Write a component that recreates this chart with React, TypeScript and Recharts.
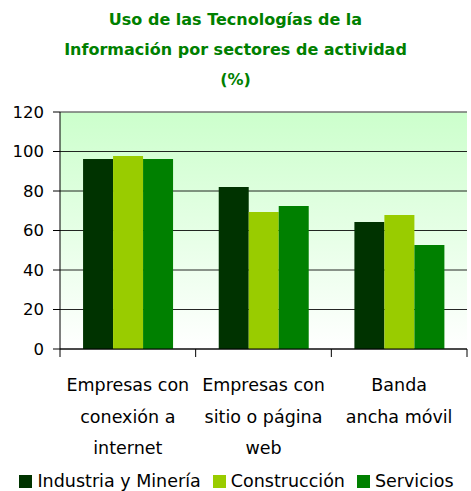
import React from 'react';
import {
  BarChart,
  Bar,
  XAxis,
  YAxis,
  CartesianGrid,
  Legend,
  ReferenceLine,
} from 'recharts';

// categories (wrapped onto three lines like the original)
const categories = [
  ['Empresas con', 'conexión a', 'internet'],
  ['Empresas con', 'sitio o página', 'web'],
  ['Banda', 'ancha móvil'],
];

const industria = [96.2, 82.0, 64.3];
const construccion = [97.7, 69.4, 67.8];
const servicios = [96.2, 72.4, 52.7];

const yTicks = [0, 20, 40, 60, 80, 100, 120];

const seriesNames = ['Industria y Minería', 'Construcción', 'Servicios'];
const seriesColors = ['#003300', '#99cc00', '#008000'];

const titleLines = [
  'Uso de las Tecnologías de la',
  'Información por sectores de actividad',
  '(%)',
];

const data = categories.map((lines, i) => ({
  name: lines.join(' '),
  industria: industria[i],
  construccion: construccion[i],
  servicios: servicios[i],
}));

const FONT = '"DejaVu Sans", sans-serif';
const W = 471;
const H = 491;
const PLOT_LEFT = 60;
const PLOT_RIGHT = 4;
const BAND = (W - PLOT_LEFT - PLOT_RIGHT) / categories.length;

// category label plus the tick marks that sit on the category edges
const CategoryTick = (props: any) => {
  const { x, y, index } = props;
  const lines = categories[index] || [];
  const top = y - 8; // tick y includes tickMargin offset
  return (
    <g>
      <line x1={x - BAND / 2} x2={x - BAND / 2} y1={top} y2={top + 8} stroke="#000" />
      {index === categories.length - 1 && (
        <line x1={x + BAND / 2} x2={x + BAND / 2} y1={top} y2={top + 8} stroke="#000" />
      )}
      {lines.map((l: string, i: number) => (
        <text
          key={i}
          x={x}
          y={top + 36 + i * 31.5}
          textAnchor="middle"
          dominantBaseline="central"
          fontSize={17.5}
          fontFamily={FONT}
          fill="#000"
        >
          {l}
        </text>
      ))}
    </g>
  );
};

const LegendBox = () => (
  <div
    style={{
      height: 20,
      display: 'flex',
      justifyContent: 'center',
      alignItems: 'center',
      gap: 12,
      fontFamily: FONT,
      fontSize: 17.5,
      color: '#000',
      whiteSpace: 'nowrap',
      paddingLeft: 6,
    }}
  >
    {seriesNames.map((n, i) => (
      <div key={n} style={{ display: 'flex', alignItems: 'center', gap: 5 }}>
        <span style={{ width: 13, height: 13, background: seriesColors[i], display: 'inline-block' }} />
        <span>{n}</span>
      </div>
    ))}
  </div>
);

export default function App() {
  return (
    <div style={{ position: 'absolute', left: 0, top: 0, width: W, height: H, background: '#fff' }}>
      <div
        style={{
          position: 'absolute',
          left: 0,
          top: 5,
          width: W,
          textAlign: 'center',
          fontFamily: FONT,
          fontWeight: 'bold',
          fontSize: 16,
          lineHeight: '30px',
          color: '#008000',
        }}
      >
        {titleLines.map((t) => (
          <div key={t}>{t}</div>
        ))}
      </div>
      <BarChart
        width={W}
        height={H}
        data={data}
        margin={{ top: 112, right: PLOT_RIGHT, left: 0, bottom: 0 }}
        barCategoryGap="17%"
        barGap={0}
      >
        <defs>
          <linearGradient id="plotBg" x1="0" y1="0" x2="0" y2="1">
            <stop offset="0%" stopColor="#ccffcc" />
            <stop offset="100%" stopColor="#ffffff" />
          </linearGradient>
        </defs>
        <CartesianGrid
          vertical={false}
          stroke="#000"
          strokeOpacity={0.85}
          fill="url(#plotBg)"
          fillOpacity={1}
        />
        <XAxis
          dataKey="name"
          height={122}
          interval={0}
          tickLine={false}
          axisLine={{ stroke: '#000' }}
          tick={<CategoryTick />}
        />
        <YAxis
          width={PLOT_LEFT}
          domain={[0, 120]}
          ticks={yTicks}
          interval={0}
          tickSize={7}
          tickMargin={9}
          axisLine={{ stroke: '#000' }}
          tickLine={{ stroke: '#000' }}
          tick={{ fontSize: 16.5, fontFamily: FONT, fill: '#000' }}
        />
        <YAxis
          yAxisId="border"
          orientation="right"
          width={0}
          tick={false}
          tickLine={false}
          axisLine={{ stroke: '#999' }}
        />
        <ReferenceLine y={120} stroke="#999" strokeWidth={1} />
        <Legend verticalAlign="bottom" content={<LegendBox />} />
        <Bar dataKey="industria" name={seriesNames[0]} fill={seriesColors[0]} isAnimationActive={false} />
        <Bar dataKey="construccion" name={seriesNames[1]} fill={seriesColors[1]} isAnimationActive={false} />
        <Bar dataKey="servicios" name={seriesNames[2]} fill={seriesColors[2]} isAnimationActive={false} />
      </BarChart>
    </div>
  );
}
